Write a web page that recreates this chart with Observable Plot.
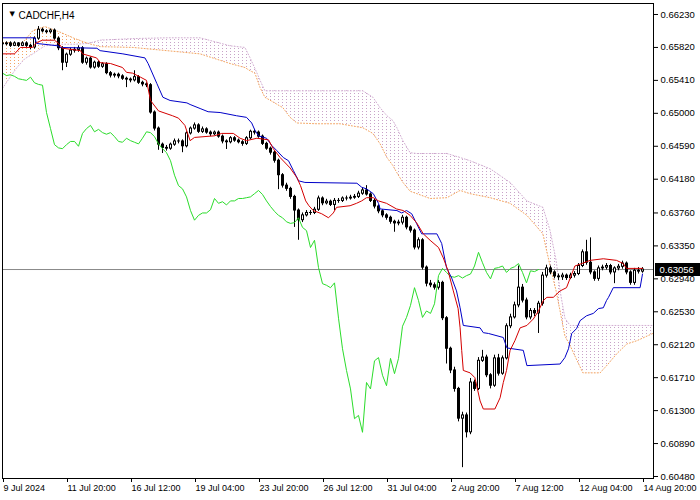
<!DOCTYPE html>
<html><head><meta charset="utf-8">
<script src="https://cdn.jsdelivr.net/npm/d3@7"></script>
<script src="https://cdn.jsdelivr.net/npm/@observablehq/plot@0.6"></script>
<style>html,body{margin:0;padding:0;background:#fff;} svg{display:block}</style>
</head><body><div id="chart"></div>
<script>
const symbolTitle = "CADCHF,H4";
const xTickBars = [0,16,32,48,64,80,96,112,128,144,160];
const xTickLabels = ["9 Jul 2024","11 Jul 20:00","16 Jul 12:00","19 Jul 04:00","23 Jul 20:00","26 Jul 12:00","31 Jul 04:00","2 Aug 20:00","7 Aug 12:00","12 Aug 04:00","14 Aug 20:00"];
const yTicks = [0.66230,0.65820,0.65410,0.65000,0.64590,0.64180,0.63760,0.63350,0.62940,0.62530,0.62120,0.61710,0.61300,0.60890,0.60480];
const lastPrice = 0.63056;
const chikouShift = 26;

const open = [
0.6587,0.6586,0.6587,0.6584,0.6587,0.6584,0.6587,0.6584,0.6582,0.6593,
0.6604,0.6602,0.6601,0.6603,0.6593,0.6581,0.6563,0.6573,0.6578,0.6579,
0.6581,0.6563,0.6568,0.6557,0.6563,0.6558,0.6561,0.6550,0.6547,0.6548,
0.6546,0.6543,0.6542,0.6541,0.6545,0.6538,0.6536,0.6535,0.6501,0.6481,
0.6461,0.6457,0.6456,0.6461,0.6465,0.6465,0.6459,0.6475,0.6481,0.6485,
0.6477,0.6480,0.6476,0.6474,0.6476,0.6471,0.6465,0.6464,0.6469,0.6466,
0.6464,0.6462,0.6469,0.6477,0.6476,0.6471,0.6462,0.6456,0.6451,0.6441,
0.6423,0.6410,0.6406,0.6396,0.6379,0.6367,0.6373,0.6376,0.6376,0.6380,
0.6394,0.6388,0.6390,0.6386,0.6391,0.6391,0.6394,0.6394,0.6395,0.6396,
0.6400,0.6404,0.6399,0.6391,0.6384,0.6378,0.6373,0.6370,0.6365,0.6363,
0.6364,0.6370,0.6358,0.6354,0.6333,0.6342,0.6308,0.6288,0.6286,0.6283,
0.6289,0.6245,0.6207,0.6180,0.6157,0.6120,0.6124,0.6103,0.6165,0.6157,
0.6192,0.6196,0.6174,0.6161,0.6195,0.6176,0.6195,0.6235,0.6246,0.6261,
0.6283,0.6267,0.6246,0.6254,0.6251,0.6263,0.6298,0.6307,0.6302,0.6297,
0.6296,0.6298,0.6295,0.6298,0.6300,0.6310,0.6327,0.6314,0.6302,0.6294,
0.6307,0.6308,0.6310,0.6302,0.6307,0.6309,0.6313,0.6302,0.6289,0.6304,
0.6303];
const high = [
0.6589,0.6589,0.6589,0.6589,0.6588,0.6589,0.6589,0.6586,0.6595,0.6608,
0.6606,0.6604,0.6605,0.6605,0.6595,0.6583,0.6575,0.6581,0.6582,0.6584,
0.6583,0.6570,0.6570,0.6565,0.6565,0.6563,0.6563,0.6552,0.6550,0.6550,
0.6548,0.6545,0.6544,0.6553,0.6547,0.6540,0.6538,0.6537,0.6503,0.6483,
0.6463,0.6460,0.6463,0.6468,0.6468,0.6467,0.6477,0.6483,0.6488,0.6487,
0.6483,0.6482,0.6478,0.6478,0.6478,0.6473,0.6467,0.6471,0.6471,0.6468,
0.6466,0.6471,0.6479,0.6480,0.6478,0.6473,0.6464,0.6458,0.6453,0.6443,
0.6425,0.6413,0.6408,0.6398,0.6381,0.6376,0.6379,0.6379,0.6383,0.6397,
0.6396,0.6393,0.6392,0.6394,0.6394,0.6396,0.6397,0.6398,0.6399,0.6403,
0.6407,0.6410,0.6401,0.6393,0.6386,0.6380,0.6375,0.6372,0.6367,0.6367,
0.6373,0.6372,0.6360,0.6356,0.6345,0.6344,0.6310,0.6292,0.6289,0.6292,
0.6291,0.6247,0.6209,0.6184,0.6159,0.6128,0.6127,0.6170,0.6168,0.6196,
0.6205,0.6199,0.6176,0.6199,0.6200,0.6198,0.6238,0.6250,0.6265,0.6310,
0.6287,0.6270,0.6257,0.6257,0.6266,0.6302,0.6311,0.6310,0.6304,0.6300,
0.6301,0.6300,0.6301,0.6303,0.6313,0.6330,0.6342,0.6345,0.6304,0.6310,
0.6311,0.6313,0.6312,0.6309,0.6312,0.6316,0.6315,0.6304,0.6307,0.6308,
0.6308];
const low = [
0.6584,0.6584,0.6582,0.6583,0.6582,0.6583,0.6582,0.6579,0.6580,0.6591,
0.6600,0.6599,0.6599,0.6591,0.6578,0.6553,0.6557,0.6571,0.6575,0.6576,
0.6561,0.6560,0.6555,0.6555,0.6556,0.6556,0.6548,0.6544,0.6544,0.6543,
0.6541,0.6532,0.6538,0.6539,0.6536,0.6533,0.6532,0.6499,0.6478,0.6454,
0.6450,0.6453,0.6454,0.6459,0.6462,0.6451,0.6457,0.6473,0.6479,0.6475,
0.6475,0.6474,0.6471,0.6472,0.6469,0.6462,0.6455,0.6462,0.6464,0.6462,
0.6459,0.6460,0.6467,0.6473,0.6469,0.6460,0.6454,0.6448,0.6438,0.6405,
0.6407,0.6403,0.6393,0.6358,0.6342,0.6364,0.6371,0.6373,0.6374,0.6378,
0.6385,0.6386,0.6384,0.6379,0.6388,0.6389,0.6391,0.6392,0.6393,0.6394,
0.6398,0.6397,0.6389,0.6381,0.6375,0.6370,0.6367,0.6362,0.6352,0.6360,
0.6361,0.6355,0.6351,0.6330,0.6330,0.6305,0.6284,0.6283,0.6280,0.6280,
0.6242,0.6188,0.6176,0.6153,0.6116,0.6059,0.6096,0.6100,0.6154,0.6155,
0.6190,0.6171,0.6157,0.6159,0.6173,0.6174,0.6193,0.6232,0.6244,0.6258,
0.6264,0.6243,0.6243,0.6247,0.6226,0.6260,0.6295,0.6299,0.6294,0.6292,
0.6292,0.6292,0.6293,0.6295,0.6298,0.6308,0.6311,0.6299,0.6291,0.6291,
0.6304,0.6305,0.6299,0.6288,0.6304,0.6306,0.6299,0.6286,0.6286,0.6300,
0.6301];
const close = [
0.6586,0.6587,0.6584,0.6587,0.6584,0.6587,0.6584,0.6582,0.6593,0.6604,
0.6602,0.6601,0.6603,0.6593,0.6581,0.6563,0.6573,0.6578,0.6579,0.6581,
0.6563,0.6568,0.6557,0.6563,0.6558,0.6561,0.6550,0.6547,0.6548,0.6546,
0.6543,0.6542,0.6541,0.6545,0.6538,0.6536,0.6535,0.6501,0.6481,0.6461,
0.6457,0.6456,0.6461,0.6465,0.6465,0.6459,0.6475,0.6481,0.6485,0.6477,
0.6480,0.6476,0.6474,0.6476,0.6471,0.6465,0.6464,0.6469,0.6466,0.6464,
0.6462,0.6469,0.6477,0.6476,0.6471,0.6462,0.6456,0.6451,0.6441,0.6423,
0.6410,0.6406,0.6396,0.6379,0.6367,0.6373,0.6376,0.6376,0.6380,0.6394,
0.6388,0.6390,0.6386,0.6391,0.6391,0.6394,0.6394,0.6395,0.6396,0.6400,
0.6404,0.6399,0.6391,0.6384,0.6378,0.6373,0.6370,0.6365,0.6363,0.6364,
0.6370,0.6358,0.6354,0.6333,0.6342,0.6308,0.6288,0.6286,0.6283,0.6289,
0.6245,0.6207,0.6180,0.6157,0.6120,0.6124,0.6103,0.6165,0.6157,0.6192,
0.6196,0.6174,0.6161,0.6195,0.6176,0.6195,0.6235,0.6246,0.6261,0.6283,
0.6267,0.6246,0.6254,0.6251,0.6263,0.6298,0.6307,0.6302,0.6297,0.6296,
0.6298,0.6295,0.6298,0.6300,0.6310,0.6327,0.6314,0.6302,0.6294,0.6307,
0.6308,0.6310,0.6302,0.6307,0.6309,0.6313,0.6302,0.6289,0.6304,0.6303,
0.63056];

const tenkanBar = [0,3,4.5,7.5,8.5,10,13,14,15,19.5,20,23.5,24.5,27,30,31,32.5,34.5,36,37,39,42.5,44,45.6,46.9,48,53,54.8,57.7,59.4,61,63.6,66.5,67.7,69.4,71.9,73.6,74.5,75.8,76.6,77.7,79.8,81.5,82.7,83.5,86.9,88.5,89.8,91,92.7,94,96,98.5,100.2,101.9,103.5,105.2,106.9,109,110.2,111.4,112.7,113.9,114.4,114.8,115.2,116.9,118.1,119.4,120.2,123.1,124.4,125.2,126,126.9,128.1,129.4,131.1,132.7,134,135.2,136.1,137.7,139.4,141,143.1,144.8,146.9,150.2,153.5,155.2,156,160];
const tenkanVal = [0.6574,0.6574,0.6582,0.6582,0.6588,0.6591,0.6591,0.6587,0.6581,0.6578,0.6574,0.6569,0.6563,0.6562,0.6557,0.6551,0.6550,0.6545,0.6541,0.6516,0.6503,0.6497,0.6494,0.6485,0.6466,0.6470,0.6472,0.6475,0.6475,0.6469,0.6466,0.6469,0.6467,0.6456,0.6445,0.6432,0.6420,0.6410,0.6391,0.6385,0.6379,0.6375,0.6370,0.6376,0.6383,0.6385,0.6388,0.6391,0.6395,0.6395,0.6391,0.6388,0.6381,0.6379,0.6373,0.6364,0.6350,0.6342,0.6333,0.6320,0.6304,0.6279,0.6257,0.6233,0.6205,0.6180,0.6177,0.6171,0.6142,0.6132,0.6132,0.6146,0.6165,0.6180,0.6205,0.6217,0.6233,0.6236,0.6244,0.6254,0.6267,0.6271,0.6271,0.6279,0.6283,0.6310,0.6313,0.6317,0.6319,0.6317,0.6313,0.6307,0.6307];

const kijunBar = [0,8.1,8.5,13.9,14.4,23.6,24.4,30.1,35.6,36.4,38.6,40.1,41.9,46.1,46.9,49.4,51.4,54.4,58.5,61,62.3,63.1,64,66,67.3,68.5,70.2,71.5,72.7,74,75.6,88.6,89.8,91,92.7,94,94.4,98.6,99.8,101,102.3,103.5,104.8,108.6,109.8,111,112.3,113.5,114.4,115.2,119.4,120.2,121.5,125.2,126.1,130.2,131.1,139.4,140.6,141.5,142.3,143.5,144.4,146,147.7,149,150.2,151,151.5,152.7,159.4,160];
const kijunVal = [0.6594,0.6594,0.6587,0.6584,0.6582,0.6581,0.6578,0.6574,0.6569,0.6562,0.6537,0.6520,0.6516,0.6513,0.6511,0.6506,0.6502,0.6501,0.6497,0.6495,0.6488,0.6479,0.6472,0.6469,0.6460,0.6454,0.6445,0.6441,0.6429,0.6416,0.6414,0.6413,0.6408,0.6406,0.6400,0.6388,0.6381,0.6379,0.6376,0.6379,0.6375,0.6363,0.6350,0.6350,0.6338,0.6308,0.6295,0.6279,0.6258,0.6236,0.6233,0.6227,0.6226,0.6221,0.6208,0.6205,0.6186,0.6188,0.6196,0.6207,0.6226,0.6232,0.6242,0.6248,0.6251,0.6257,0.6258,0.6267,0.6271,0.6283,0.6283,0.6300];

const cloudBar = [0,1.9,3.6,5.6,7.6,10.6,14.4,18.1,21.4,24.4,32.6,41.1,49.4,56.9,60.6,61.9,63.1,64.4,65.6,70.1,71.9,73.6,78.6,84.4,90.1,92.6,94.4,96.1,97.6,98.6,100.1,101.9,103.6,106.9,111.1,114.4,116.9,121.9,126.9,131.1,135.1,136.9,138.4,139.4,140.6,141.9,143.1,145.1,149.4,151.4,153.6,156.1,158.6,163];
const spanA = [0.6588,0.6588,0.6584,0.6591,0.6603,0.6608,0.6601,0.6593,0.6587,0.6583,0.6582,0.6578,0.6574,0.6562,0.6557,0.6553,0.6550,0.6532,0.6520,0.6507,0.6495,0.6488,0.6487,0.6487,0.6482,0.6475,0.6462,0.6445,0.6435,0.6426,0.6414,0.6403,0.6400,0.6394,0.6395,0.6404,0.6400,0.6395,0.6388,0.6373,0.6350,0.6310,0.6279,0.6254,0.6223,0.6211,0.6198,0.6177,0.6177,0.6188,0.6201,0.6213,0.6217,0.6227];
const spanB = [0.6531,0.6545,0.6557,0.6568,0.6574,0.6584,0.6586,0.6586,0.6587,0.6591,0.6593,0.6594,0.6594,0.6584,0.6582,0.6569,0.6556,0.6541,0.6528,0.6528,0.6528,0.6528,0.6528,0.6528,0.6528,0.6520,0.6507,0.6497,0.6491,0.6482,0.6466,0.6451,0.6450,0.6450,0.6450,0.6445,0.6441,0.6431,0.6414,0.6391,0.6383,0.6354,0.6317,0.6279,0.6245,0.6236,0.6236,0.6236,0.6236,0.6236,0.6236,0.6236,0.6236,0.6236];

// ---- tables built from the arrays ----
const bars = close.map((c, i) => ({i, o: open[i], h: high[i], l: low[i], c,
  top: Math.max(open[i], c), bot: Math.min(open[i], c)}));
const bulls = bars.filter(d => d.c > d.o);
const bears = bars.filter(d => d.c <= d.o);
const tenkan = tenkanBar.map((b, k) => ({b, v: tenkanVal[k]}));
const kijun = kijunBar.map((b, k) => ({b, v: kijunVal[k]}));
const chikou = close.map((c, i) => ({b: i - chikouShift, v: c}));
const cloud = cloudBar.map((b, k) => ({b, a: spanA[k], s: spanB[k]}));
const xLabel = new Map(xTickBars.map((b, k) => [b, xTickLabels[k]]));

const FONT = "'Liberation Sans', Arial, sans-serif";

const chart = Plot.plot({
  width: 700, height: 500,
  marginLeft: 2, marginRight: 47, marginTop: 3, marginBottom: 22,
  style: {fontFamily: FONT, fontSize: "10px", background: "white", color: "black"},
  x: {domain: [0, 162.75]},
  y: {domain: [0.604551, 0.663669]},
  marks: [
    // cloud hatch
    Plot.areaY(cloud.filter(d => d.a >= d.s), {x: "b", y1: "a", y2: "s", fill: "black", className: "cloud-up", clip: true}),
    Plot.areaY(cloud.filter(d => d.a <= d.s), {x: "b", y1: "a", y2: "s", fill: "black", className: "cloud-dn", clip: true}),
    Plot.line(cloud, {x: "b", y: "a", stroke: "#f4a460", strokeWidth: 1, strokeDasharray: "1,2", clip: true}),
    Plot.line(cloud, {x: "b", y: "s", stroke: "#d2aed2", strokeWidth: 1, strokeDasharray: "1,2", clip: true}),
    // bid line
    Plot.ruleY([lastPrice], {stroke: "#8a8a8a", strokeWidth: 1}),
    // candles
    Plot.ruleX(bars, {x: "i", y1: "l", y2: "h", stroke: "black", strokeWidth: 1, clip: true}),
    Plot.ruleX(bears, {x: "i", y1: "top", y2: "bot", stroke: "black", strokeWidth: 3, insetTop: -0.5, insetBottom: -0.5, clip: true}),
    Plot.ruleX(bulls, {x: "i", y1: "top", y2: "bot", stroke: "black", strokeWidth: 3, insetTop: -0.5, insetBottom: -0.5, clip: true}),
    Plot.ruleX(bulls.filter(d => d.c - d.o > 0.00015), {x: "i", y1: "top", y2: "bot", stroke: "white", strokeWidth: 1, insetTop: 0.5, insetBottom: 0.5, clip: true}),
    // ichimoku lines
    Plot.line(chikou, {x: "b", y: "v", stroke: "#2bdc2b", strokeWidth: 1, clip: true}),
    Plot.line(kijun, {x: "b", y: "v", stroke: "#0000c8", strokeWidth: 1, clip: true}),
    Plot.line(tenkan, {x: "b", y: "v", stroke: "#d40000", strokeWidth: 1, clip: true}),
    // frame + axes
    Plot.frame({stroke: "black"}),
    Plot.axisY({anchor: "right", ticks: yTicks, tickFormat: d => d.toFixed(5), tickSize: 4, tickPadding: 3, label: null, fontSize: 9.5}),
    Plot.axisX({ticks: xTickBars, tickFormat: d => xLabel.get(d), tickSize: 4, tickPadding: 2, textAnchor: "start", dx: 1, label: null, fontSize: 9}),
    // current price tag
    Plot.text([lastPrice], {y: d => d, text: d => d.toFixed(5), frameAnchor: "right", dx: 6, textAnchor: "start", fill: "white", fontSize: 9.5, className: "price-tag"}),
    // title
    Plot.text(["\u25BC"], {text: d => d, frameAnchor: "top-left", dx: 7, dy: 8, fontSize: 7, fill: "black", fontFamily: "DejaVu Sans"}),
    Plot.text([symbolTitle], {text: d => d, frameAnchor: "top-left", dx: 16, dy: 8, textAnchor: "start", fontSize: 10, fill: "black"})
  ]
});

document.getElementById("chart").appendChild(chart);

// ---- SVG hatch patterns for the cloud (dotted vertical histogram) ----
const NS = "http://www.w3.org/2000/svg";
const defs = document.createElementNS(NS, "defs");
chart.insertBefore(defs, chart.firstChild);
function hatch(id, color, off) {
  const p = document.createElementNS(NS, "pattern");
  p.setAttribute("id", id);
  p.setAttribute("patternUnits", "userSpaceOnUse");
  p.setAttribute("width", 4); p.setAttribute("height", 3);
  p.setAttribute("x", -off); p.setAttribute("y", -off);
  const r = document.createElementNS(NS, "rect");
  r.setAttribute("x", 2); r.setAttribute("y", 0);
  r.setAttribute("width", 1); r.setAttribute("height", 1);
  r.setAttribute("fill", color);
  p.appendChild(r); defs.appendChild(p);
}
function offsetOf(g) {
  const m = /translate\(([-\d.]+)/.exec(g.getAttribute("transform") || "");
  return m ? +m[1] : 0;
}
[["cloud-up", "hatchUp", "#f2a468"], ["cloud-dn", "hatchDn", "#c8a2c8"]].forEach(([cls, id, col]) => {
  const g = chart.querySelector("." + cls);
  if (!g) return;
  hatch(id, col, offsetOf(g));
  g.setAttribute("fill", `url(#${id})`);
  g.querySelectorAll("path").forEach(p => p.setAttribute("fill", `url(#${id})`));
});

// ---- black box behind the current price, placed through the y scale ----
const tag = chart.querySelector(".price-tag");
if (tag) {
  const py = chart.scale("y").apply(lastPrice);
  const r = document.createElementNS(NS, "rect");
  r.setAttribute("x", 655);
  r.setAttribute("y", Math.round(py) - 6);
  r.setAttribute("width", 45);
  r.setAttribute("height", 13);
  r.setAttribute("fill", "black");
  tag.parentNode.insertBefore(r, tag);
}
</script>
</body></html>
